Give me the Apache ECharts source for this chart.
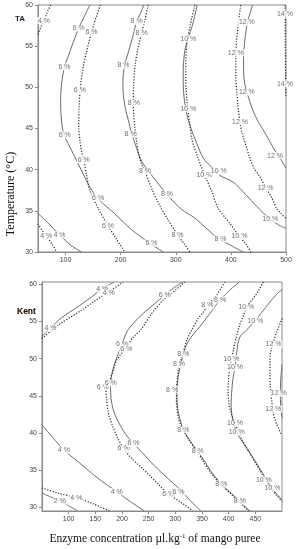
<!DOCTYPE html>
<html>
<head>
<meta charset="utf-8">
<script src="https://cdn.jsdelivr.net/npm/echarts@6/dist/echarts.min.js"></script>
<style>
  html, body { margin: 0; padding: 0; background: #fff; }
  #main { width: 305px; height: 549px; }
</style>
</head>
<body>
<div id="main"></div>
<script>
// ---- tick labels ----
var taXTicks = [100, 200, 300, 400, 500];
var taYTicks = [30, 35, 40, 45, 50, 55, 60];
var kentXTicks = [100, 150, 200, 250, 300, 350, 400, 450];
var kentYTicks = [30, 35, 40, 45, 50, 55, 60];

// ---- TA panel contours (enzyme, temperature) ----
var ta_solid_4 = [[50,34.7],[70,33.4],[89,32.1],[110,30.8],[129,30]];
var ta_dot_4 = [[50,33.4],[65,31.9],[75,31],[84,30]];
var ta_dot_4b = [[73,60],[66,59],[61,58.1],[55,57.3],[50,56.4]];
var ta_solid_6 = [[144,60],[134,58.6],[124,57.2],[113,55.3],[104,53.6],[98,52.5],[93,50.5],[91,48.5],[92,46.5],[95.5,44.6],[100,43.8],[104.5,43.2],[115,41.8],[126,40.3],[144,37.9],[160,36.4],[190,34.6],[220,32.7],[250,31.2],[277,30]];
var ta_dot_6 = [[163,60],[147,56.7],[138,54.3],[132,52.5],[127,50],[124.5,47.5],[124,45],[126,43.6],[129,42.2],[133,41.2],[138,39.4],[144,37.5],[160,35.2],[176,33.3],[192,31.6],[207.5,30]];
var ta_solid_8 = [[242,60],[236,59],[229,58],[223,56.4],[214,54.3],[207,52.6],[204,50.8],[205,49],[209,47.3],[214,46],[219,44.6],[228,42.8],[236,41.3],[244,40.4],[260,39],[284,37],[310,35.2],[335,34.1],[374,31.8],[400,30.8],[422,30]];
var ta_dot_8 = [[250,60],[244,58.2],[238,56.6],[231,54.6],[226,52.5],[223.5,50.3],[223,48.1],[224,46.5],[225.7,45.2],[229,43.4],[233,41.8],[238.5,40.6],[244,39.8],[257,37.6],[271,35.6],[287,33.8],[303,32.1],[315,31],[325.6,30]];
var ta_solid_10 = [[339,60],[330,57.5],[322.5,56],[316.5,54.5],[313.5,52],[313.5,50.5],[315,48.8],[318,47.4],[322,46.2],[328.7,44.8],[338,43.2],[350,41.4],[365,40.3],[380,39.3],[404,38.5],[428,36.9],[446,35.6],[471,34],[489,33.2],[500,32.9]];
var ta_dot_10 = [[334.7,60],[325.6,57.4],[322,56],[319.5,54.9],[318,52.5],[318.3,50.5],[320,48.5],[322.5,47],[325.6,45.4],[330,43.5],[340,41.5],[352,39.4],[365,37.4],[377,35.3],[398,33.5],[415,31.9],[428,30.9],[436,30]];
var ta_solid_12 = [[439.5,60],[430,57.9],[425,55.5],[423,53.5],[423,52],[425,50.5],[429,49.4],[440,47.2],[449,45.9],[459,44.8],[470,43.5],[480,42.3],[490,41.3],[500,40.2]];
var ta_dot_12 = [[417.7,60],[413,57.4],[410,55.5],[409,53.5],[409,51.3],[411,49.3],[413,47.6],[416.5,45.8],[420,44.5],[427,43],[434.5,41.4],[442,40.2],[452,39.2],[463,37.9],[474,36.6],[483,35.3],[492,34.6],[500,34.1]];
var ta_dot_14 = [[498.5,60],[498.8,55],[499.5,50],[500,48.8]];

var taLabels = [
  [61,58.1,'4 %'],[124,57.2,'6 %'],[147,56.7,'6 %'],[98,52.5,'6 %'],[126,49.7,'6 %'],
  [98.5,44.2,'6 %'],[133,41.2,'6 %'],[159,36.6,'6 %'],[177,33.2,'6 %'],[256,31.1,'6 %'],
  [65,31.9,'4 %'],[89,32.1,'4 %'],
  [229,58,'8 %'],[238,56.6,'8 %'],[205,52.7,'8 %'],[224,48.1,'8 %'],[218,44.3,'8 %'],
  [244,39.8,'8 %'],[284,37,'8 %'],[303,32.1,'8 %'],[381,31.6,'8 %'],
  [322.6,55.9,'10 %'],[322.5,47.4,'10 %'],[352,39.4,'10 %'],[378,39.8,'10 %'],
  [415.5,31.9,'10 %'],[471.5,34,'10 %'],
  [429,57.9,'12 %'],[409,54.2,'12 %'],[429,49.4,'12 %'],[416.5,45.8,'12 %'],
  [480,41.7,'12 %'],[463,37.8,'12 %'],
  [498,58.9,'14 %'],[498,50.4,'14 %']
];

// ---- Kent panel contours ----
var kent_solid_2 = [[50,31.9],[66,31.4],[83.5,30.8],[100,30.2],[116.7,29.5]];
var kent_solid_4 = [[50,41.1],[70,39.4],[91,37.7],[118,36.1],[155,33.9],[190,32.1],[211,31],[241.6,29.5]];
var kent_dot_4 = [[50,32.6],[80,31.9],[114.5,31.3],[145,30.5],[176,29.5]];
var kent_solid_4b = [[50,53],[66,54.1],[86.7,55.5],[118,57],[143,58.3],[163,59.4],[185,60.3]];
var kent_dot_4b = [[50,52.7],[80.5,54.5],[124,56.5],[150,57.8],[174,58.9],[202,60.3]];
var kent_solid_6 = [[314,60.3],[297,59.5],[281,58.6],[260,57.3],[240,56.1],[222,54.8],[209,53.6],[200,51.9],[190.5,50.2],[184,48.8],[180,47.5],[178.5,46.3],[179.5,44.6],[185,42.8],[196,41.1],[209,39.6],[221.5,38.6],[240,37.2],[259,35.7],[278,34.4],[296.5,33.2],[310,32.3],[328,30.9],[348,29.5]];
var kent_dot_6 = [[318,60.3],[300,59.2],[277.5,57.9],[255,56],[236.5,54],[220,52.8],[208.5,51.5],[198,50.6],[190,49.8],[183,48.3],[176,46.9],[170,45.8],[171,44.5],[174.7,42.6],[182,41],[192,39.3],[203,37.9],[218,36.6],[234,35.5],[250,34.4],[268,33.1],[287,31.8],[310,30.7],[333,29.5]];
var kent_solid_8 = [[420,60.3],[402,59.2],[384,57.9],[368,56.4],[352.6,54.9],[340,53.8],[327.7,52.7],[320,51.7],[315,50.6],[311,49.5],[307,48.2],[304.5,47],[303,45.5],[303.5,44],[306,42.6],[311,41.3],[315,40.4],[328,38.9],[342,37.5],[355,36.2],[365,35],[376,34],[386,33.1],[405,31.9],[421,30.8],[439,29.5]];
var kent_dot_8 = [[393,60.3],[378,58.6],[362,57.2],[352,56.2],[343,55.4],[331,53.9],[321.5,52.5],[315,50.9],[310,49.6],[306,48.6],[303.5,47.3],[302.5,46],[302,44.5],[303,43.2],[306,42],[313,40.6],[326,39],[341,37.5],[353,36.1],[364,34.9],[375,33.9],[386,33],[404,31.8],[420,30.7],[438,29.5]];
var kent_solid_10 = [[500,59.3],[488,58.5],[477.5,57.6],[462,56.2],[449.5,55.1],[436,54],[421,52.9],[415,50.8],[412,48.8],[408,47.3],[406,45.8],[404.5,44],[405.5,42.8],[407.7,41.7],[415,40.1],[427.5,38.6],[440,37.3],[452.6,35.9],[466,34.3],[481,32.6],[490,31.8],[500,31]];
var kent_dot_10 = [[465,60.3],[455,59],[445,58],[433,56.9],[428,55.8],[421,54.6],[414,52.8],[409,51.2],[405,49.8],[401.5,48.4],[399.5,47],[399,45.5],[400.5,44],[404,42.8],[412,41.3],[424.5,39.2],[437,37.6],[450,36],[464,34.3],[478,32.7],[490,31.6],[500,30.8]];
var kent_solid_12 = [[500,49.2],[498,47.5],[497,46],[497,44.5],[498.5,43],[500,42]];
var kent_dot_12 = [[500,55.4],[490,53.5],[482,51.9],[478,50.5],[477.5,49.6],[477.5,48],[478,46.4],[480.5,44.5],[483.6,42.6],[490,41.2],[499.5,39.7]];

var kentLabels = [
  [66,54.1,'4 %'],[163,59.4,'4 %'],[175,58.8,'4 %'],
  [280,58.6,'6 %'],[200,51.9,'6 %'],[208,51.3,'6 %'],[164,46.2,'6 %'],[179,46.7,'6 %'],
  [203,37.9,'6 %'],[221.5,38.6,'6 %'],[287,31.8,'6 %'],[306,32.1,'6 %'],
  [360,57.2,'8 %'],[384,57.9,'8 %'],[315,50.6,'8 %'],[307,49.2,'8 %'],[294,45.8,'8 %'],
  [315,40.4,'8 %'],[342,37.5,'8 %'],[386,33.1,'8 %'],[421,30.8,'8 %'],
  [433,56.9,'10 %'],[450,55.1,'10 %'],[405,50,'10 %'],[412,48.8,'10 %'],
  [412,41.3,'10 %'],[415,40.1,'10 %'],[466,33.7,'10 %'],[482,32.6,'10 %'],
  [484,51.9,'12 %'],[494,45.3,'12 %'],[483.6,43.2,'12 %'],
  [91,37.7,'4 %'],[190,32.1,'4 %'],[114.5,31.3,'4 %'],[83.5,30.8,'2 %']
];

var taLines = [
  [ta_solid_4,'solid'],[ta_dot_4,'dotted'],[ta_dot_4b,'dotted'],
  [ta_solid_6,'solid'],[ta_dot_6,'dotted'],[ta_solid_8,'solid'],[ta_dot_8,'dotted'],
  [ta_solid_10,'solid'],[ta_dot_10,'dotted'],[ta_solid_12,'solid'],[ta_dot_12,'dotted'],
  [ta_dot_14,'dotted']
];
var kentLines = [
  [kent_solid_2,'solid'],[kent_solid_4,'solid'],[kent_dot_4,'dotted'],
  [kent_solid_4b,'solid'],[kent_dot_4b,'dotted'],[kent_solid_6,'solid'],[kent_dot_6,'dotted'],
  [kent_solid_8,'solid'],[kent_dot_8,'dotted'],[kent_solid_10,'solid'],[kent_dot_10,'dotted'],
  [kent_solid_12,'solid'],[kent_dot_12,'dotted']
];

var dom = document.getElementById('main');
var myChart = echarts.init(dom, null, { renderer: 'canvas' });

var axisGray = '#8a8a8a';
var tickFont = { fontFamily: 'Liberation Sans', fontSize: 7, color: '#444' };

function lineSeries(lines, idx) {
  return lines.map(function (l) {
    return {
      type: 'line',
      xAxisIndex: idx, yAxisIndex: idx,
      data: l[0],
      smooth: 0.3,
      showSymbol: false,
      silent: true,
      lineStyle: l[1] === 'solid'
        ? { color: '#5a5a5a', width: 0.9, type: 'solid' }
        : { color: '#2a2a2a', width: 1.2, type: [1.2, 1.6] },
      z: 2
    };
  });
}

function labelSeries(labels, idx) {
  return {
    type: 'scatter',
    xAxisIndex: idx, yAxisIndex: idx,
    data: labels,
    symbolSize: 0,
    silent: true,
    z: 5,
    label: {
      show: true,
      position: 'inside',
      formatter: function (p) { return p.value[2]; },
      fontFamily: 'Liberation Sans',
      fontSize: 7,
      color: '#4a4a4a',
      backgroundColor: '#fff',
      padding: [0, 1]
    }
  };
}

function xAxisDef(idx, ticks) {
  return {
    type: 'value', gridIndex: idx, min: 50, max: 500,
    splitLine: { show: false },
    axisLine: { lineStyle: { color: axisGray } },
    axisTick: { customValues: ticks, length: 3, lineStyle: { color: axisGray } },
    axisLabel: Object.assign({ customValues: ticks, margin: 5 }, tickFont)
  };
}
function yAxisDef(idx, ticks, min, max) {
  return {
    type: 'value', gridIndex: idx, min: min, max: max,
    splitLine: { show: false },
    axisLine: { lineStyle: { color: axisGray } },
    axisTick: { customValues: ticks, length: 3, lineStyle: { color: axisGray } },
    axisLabel: Object.assign({ customValues: ticks, margin: 5 }, tickFont)
  };
}

var option = {
  animation: false,
  grid: [
    { left: 38, top: 5, width: 248, height: 247, show: true, borderColor: axisGray, borderWidth: 1 },
    { left: 42, top: 282, width: 240, height: 229, show: true, borderColor: axisGray, borderWidth: 1 }
  ],
  xAxis: [xAxisDef(0, taXTicks), xAxisDef(1, kentXTicks)],
  yAxis: [yAxisDef(0, taYTicks, 30, 60), yAxisDef(1, kentYTicks, 29.5, 60.3)],
  graphic: [
    { type: 'text', left: 15, top: 15, style: { text: 'TA', fontFamily: 'Liberation Sans', fontWeight: 'bold', fontSize: 8, fill: '#1c1c30' } },
    { type: 'text', left: 17, top: 307, style: { text: 'Kent', fontFamily: 'Liberation Sans', fontWeight: 'bold', fontSize: 8.5, fill: '#111', textShadowColor: 'rgba(255,150,40,0.6)', textShadowBlur: 1 } },
    { type: 'text', x: 11, y: 194, rotation: Math.PI / 2,
      style: { text: 'Temperature (°C)', fontFamily: 'Liberation Serif', fontSize: 12, fill: '#111', align: 'center', verticalAlign: 'middle' } },
    { type: 'text', x: 155, y: 539,
      style: {
        text: 'Enzyme concentration µl.kg{sup|-1} of mango puree',
        fontFamily: 'Liberation Serif', fontSize: 11.5, fill: '#111', align: 'center', verticalAlign: 'middle',
        rich: { sup: { fontFamily: 'Liberation Serif', fontSize: 7, fill: '#111', verticalAlign: 'top', padding: [0, 0, 6, 0] } }
      } }
  ],
  series: [].concat(
    lineSeries(taLines, 0),
    lineSeries(kentLines, 1),
    [labelSeries(taLabels, 0), labelSeries(kentLabels, 1)]
  )
};

if (option && typeof option === 'object') {
  myChart.setOption(option);
}
window.addEventListener('resize', myChart.resize);
</script>
</body>
</html>
